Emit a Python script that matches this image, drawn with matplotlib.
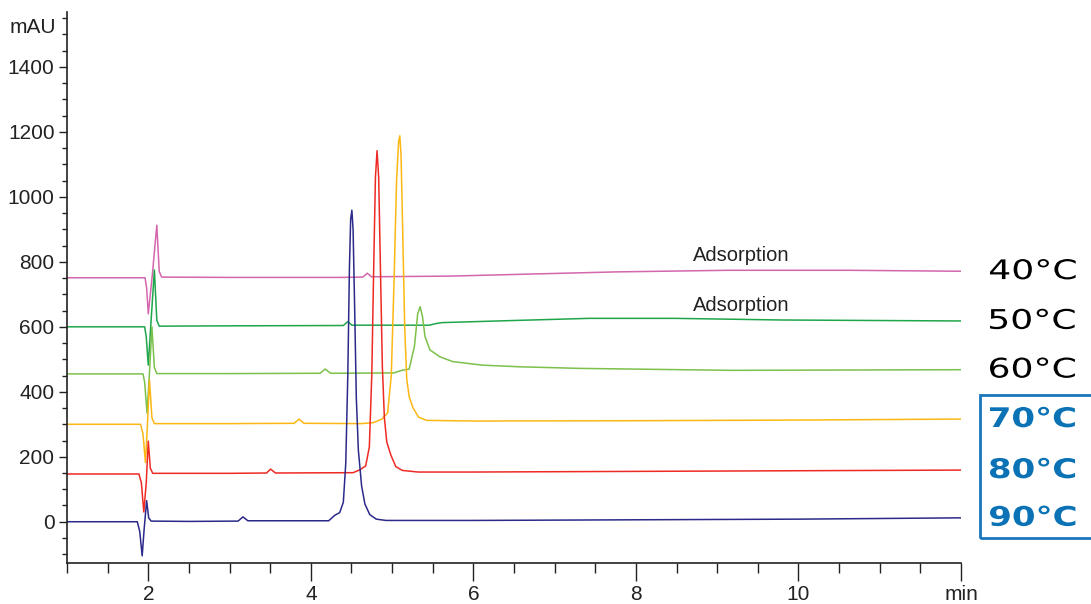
import matplotlib.pyplot as plt
from matplotlib.patches import Rectangle, PathPatch
from matplotlib.ticker import MultipleLocator
from matplotlib.transforms import blended_transform_factory, Affine2D
from matplotlib.textpath import TextPath
from matplotlib.font_manager import FontProperties

plt.rcParams['font.family'] = ['Liberation Sans', 'DejaVu Sans']

# Chromatograms (time in min, signal in mAU)
t_40 = [1.0, 1.96, 1.98, 2.0, 2.05, 2.105, 2.135, 2.165, 3.0, 4.35, 4.64, 4.695, 4.745,
        5.7, 7.75, 9.14, 10.61, 12.0]
v_40 = [751, 751, 720, 640, 760, 913, 770, 753, 752, 752, 753, 765, 754,
        756, 769, 774, 774, 771]

t_50 = [1.0, 1.955, 1.975, 2.0, 2.035, 2.075, 2.105, 2.135, 3.0, 4.4, 4.455, 4.505,
        5.46, 5.54, 5.62, 6.44, 7.42, 8.49, 9.79, 12.0]
v_50 = [600, 600, 570, 482, 620, 775, 620, 602, 603, 604, 616, 605,
        605, 610, 613, 619, 626, 626, 621, 618]

t_60 = [1.0, 1.935, 1.955, 1.985, 2.015, 2.045, 2.075, 2.105, 3.0, 4.115, 4.175, 4.245,
        5.02, 5.12, 5.21, 5.275, 5.315, 5.345, 5.375, 5.405, 5.465, 5.585, 5.745, 6.11,
        6.56, 7.32, 9.17, 12.0]
v_60 = [455, 455, 430, 334, 460, 600, 475, 456, 456, 457, 470, 457,
        458, 466, 470, 540, 640, 662, 630, 570, 529, 508, 493, 482,
        477, 472, 466, 468]

t_70 = [1.0, 1.905, 1.935, 1.965, 1.99, 2.015, 2.045, 2.075, 3.0, 3.795, 3.855, 3.915,
        4.62, 4.77, 4.875, 4.945, 4.99, 5.025, 5.055, 5.08, 5.095, 5.11, 5.13, 5.155,
        5.18, 5.21, 5.255, 5.325, 5.425, 6.0, 8.0, 10.0, 12.0]
v_70 = [300, 300, 270, 182, 300, 436, 320, 302, 302, 303, 316, 303,
        302, 305, 316, 335, 450, 750, 1050, 1170, 1188, 1130, 900, 600,
        440, 385, 352, 322, 312, 310, 311, 313, 316]

t_80 = [1.0, 1.885, 1.915, 1.945, 1.975, 2.0, 2.025, 2.055, 3.0, 3.455, 3.505, 3.565,
        4.52, 4.605, 4.675, 4.72, 4.75, 4.775, 4.795, 4.815, 4.835, 4.855, 4.88, 4.905,
        4.935, 4.985, 5.045, 5.125, 5.32, 6.0, 8.0, 10.0, 12.0]
v_80 = [147, 147, 120, 30, 120, 248, 165, 149, 149, 150, 162, 150,
        151, 160, 172, 230, 450, 800, 1060, 1142, 1060, 800, 480, 320,
        245, 205, 170, 158, 153, 153, 155, 157, 159]

t_90 = [1.0, 1.865, 1.895, 1.925, 1.95, 1.98, 2.005, 2.035, 2.5, 3.105, 3.165, 3.225,
        4.22, 4.295, 4.355, 4.4, 4.43, 4.455, 4.475, 4.49, 4.505, 4.52, 4.54, 4.56,
        4.585, 4.625, 4.665, 4.725, 4.805, 4.925, 6.0, 8.0, 10.0, 12.0]
v_90 = [0, 0, -30, -105, -20, 65, 12, 2, 1, 2, 15, 3,
        3, 20, 28, 60, 180, 450, 780, 930, 959, 900, 650, 380,
        220, 110, 55, 22, 8, 4, 4, 6, 8, 12]

traces = [(t_40, v_40), (t_50, v_50), (t_60, v_60),
          (t_70, v_70), (t_80, v_80), (t_90, v_90)]
labels = ['40\u00b0C', '50\u00b0C', '60\u00b0C', '70\u00b0C', '80\u00b0C', '90\u00b0C']
colors = ['#d466ac', '#1fa64b', '#7cc14a', '#fdb714', '#ee2a24', '#2b2a8a']

x_ticks = [2, 4, 6, 8, 10, 12]
x_tick_labels = ['2', '4', '6', '8', '10', 'min']
y_ticks = [0, 200, 400, 600, 800, 1000, 1200, 1400]

fig = plt.figure(figsize=(10.91, 6.04), dpi=100)
ax = fig.add_axes([67 / 1091, 1 - 563 / 604, (961 - 67) / 1091, (563 - 12) / 604])

for (t, v), c in zip(traces, colors):
    ax.plot(t, v, color=c, lw=1.1)

ax.set_xlim(1, 12)
ax.set_ylim(-127, 1569)
ax.set_xticks(x_ticks)
ax.set_xticklabels(x_tick_labels)
ax.xaxis.set_minor_locator(MultipleLocator(0.5))
ax.set_yticks(y_ticks)
ax.yaxis.set_minor_locator(MultipleLocator(50))
ax.tick_params(axis='x', which='major', length=13, width=1, labelsize=15, pad=3,
               colors='#222222')
ax.tick_params(axis='x', which='minor', length=7, width=1, colors='#222222')
ax.tick_params(axis='y', which='major', length=6, width=1, labelsize=15, pad=3,
               colors='#222222')
ax.tick_params(axis='y', which='minor', length=3.5, width=1, colors='#222222')
for s in ['top', 'right']:
    ax.spines[s].set_visible(False)
for s in ['left', 'bottom']:
    ax.spines[s].set_linewidth(1.2)
    ax.spines[s].set_color('#222222')

tr = blended_transform_factory(ax.transAxes, ax.transData)
ax.text(-0.012, 1520, 'mAU', transform=tr, ha='right', va='center',
        fontsize=15, color='#222222')

ax.text(9.3, 821, 'Adsorption', ha='center', va='center', fontsize=14.5, color='#222222')
ax.text(9.3, 667, 'Adsorption', ha='center', va='center', fontsize=14.5, color='#222222')

# temperature labels at the end of each trace, drawn as wide (stretched) glyphs
fp_reg = FontProperties(family='DejaVu Sans')
fp_bold = FontProperties(family='DejaVu Sans', weight='bold')
for i, ((t, v), lab) in enumerate(zip(traces, labels)):
    bold = i >= 3
    fp = fp_bold if bold else fp_reg
    col = '#0b72b5' if bold else 'black'
    sx = 1.26 if bold else 1.34
    tp = TextPath((0, 0), lab, size=27, prop=fp)
    ext = tp.get_extents()
    _, yc = ax.transData.transform((12, v[-1]))
    xt = Affine2D().translate(-ext.x0, -(ext.y0 + ext.y1) / 2).scale(sx, 1.0) \
        .translate(990, yc + 2)
    fig.add_artist(PathPatch(tp, transform=xt, facecolor=col, edgecolor='none'))

fig.patches.append(Rectangle((980 / 1091, 1 - 538 / 604), 0.2, (538 - 395) / 604,
                             transform=fig.transFigure, fill=False,
                             edgecolor='#1a75bc', lw=2))

fig.savefig('out.png', dpi=100)
